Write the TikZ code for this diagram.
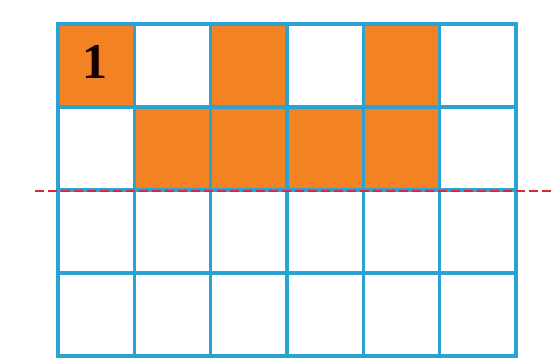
\documentclass[tikz,border=0pt]{standalone}
\usepackage{fontspec}
\setmainfont{Liberation Serif}
\definecolor{gridblue}{HTML}{2AA2D4}
\definecolor{cellorange}{HTML}{F28222}
\definecolor{cutred}{HTML}{D8283A}
\tikzset{
  cell/.style={draw=none, fill=cellorange},
  gridline/.style={draw=gridblue, line width=3.6pt},
  cutline/.style={draw=cutred, line width=2.6pt, dash pattern=on 9pt off 4pt},
}
\begin{document}
\begin{tikzpicture}[x=1pt,y=-1pt]
\useasboundingbox (0,0) rectangle (554,358);
\fill[white] (0,0) rectangle (554,358);
\def\cw{76.33}
\def\ch{83}
% orange cells
\foreach \c/\r in {0/0,2/0,4/0,1/1,2/1,3/1,4/1}{
  \fill[cell] ({58+\c*\cw},{24+\r*\ch}) rectangle ({58+(\c+1)*\cw},{24+(\r+1)*\ch});
}
% grid
\foreach \i in {0,...,6}{
  \draw[gridline] ({58+\i*\cw},22.2) -- ({58+\i*\cw},357.8);
}
\foreach \j in {0,...,4}{
  \draw[gridline] (56.2,{24+\j*\ch}) -- (517.8,{24+\j*\ch});
}
% cut line
\coordinate (cutL) at (35,191);
\coordinate (cutR) at (554,191);
\draw[cutline] (cutL) -- (cutR);
% label
\node[font=\fontsize{50}{50}\selectfont\bfseries, text=black!90!red] (one) at (95,62) {1};
\end{tikzpicture}
\end{document}
